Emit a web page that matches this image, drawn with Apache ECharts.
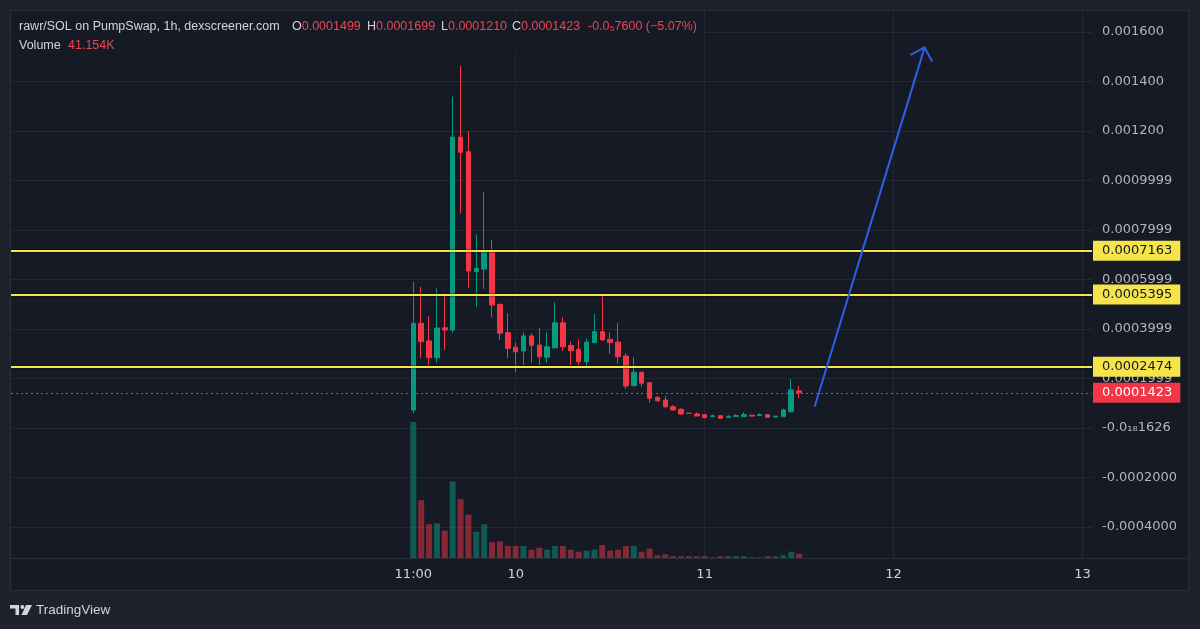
<!DOCTYPE html>
<html>
<head>
<meta charset="utf-8">
<title>rawr/SOL on PumpSwap, 1h</title>
<script src="https://cdn.jsdelivr.net/npm/echarts@6/dist/echarts.min.js"></script>
<style>
  html, body { margin: 0; padding: 0; background: #1e222d; }
  #chart { width: 1200px; height: 629px; }
</style>
</head>
<body>
<div id="chart"></div>
<script>
// hourly candles, index 0 = 11:00 on the 9th
const opens = [0.0000727, 0.000423, 0.000352, 0.000284, 0.000405, 0.000396, 0.001175, 0.001116, 0.000632, 0.000642,
  0.00071, 0.0005, 0.000385, 0.000326, 0.000311, 0.000372, 0.000335, 0.000286, 0.000324, 0.000425,
  0.000333, 0.000318, 0.000268, 0.000345, 0.000389, 0.000358, 0.000347, 0.000291, 0.000171, 0.000225,
  0.000183, 0.000124, 0.000113, 0.000086, 0.0000756, 0.00006, 0.0000566, 0.0000539, 0.000046, 0.0000498,
  0.000043, 0.000047, 0.000046, 0.000052, 0.00005, 0.000054, 0.000044, 0.0000457, 0.0000659, 0.0001499];
const closes = [0.000423, 0.000349, 0.000284, 0.000404, 0.000396, 0.001175, 0.001114, 0.000634, 0.000645, 0.000712,
  0.000497, 0.000383, 0.000322, 0.000308, 0.000372, 0.000334, 0.000288, 0.000328, 0.000425, 0.000328,
  0.000312, 0.000268, 0.000347, 0.000389, 0.000356, 0.000345, 0.000288, 0.00017, 0.000225, 0.000181,
  0.00012, 0.00011, 0.000086, 0.000073, 0.0000566, 0.000059, 0.0000485, 0.0000417, 0.000049, 0.0000391,
  0.000047, 0.00005, 0.000054, 0.000048, 0.000054, 0.000043, 0.000048, 0.0000727, 0.000154, 0.0001423];
const lows = [0.0000594, 0.000282, 0.000248, 0.000264, 0.000315, 0.000385, 0.000865, 0.000567, 0.00049, 0.000562,
  0.000447, 0.000356, 0.000282, 0.000227, 0.000255, 0.000264, 0.000255, 0.000264, 0.000322, 0.000311,
  0.000255, 0.000255, 0.000251, 0.000342, 0.000353, 0.000299, 0.000261, 0.000158, 0.000167, 0.000167,
  0.000102, 0.000106, 0.00008, 0.00007, 0.0000525, 0.000058, 0.000048, 0.00004, 0.000045, 0.000038,
  0.000042, 0.000046, 0.000045, 0.000047, 0.000049, 0.000042, 0.000043, 0.000045, 0.0000618, 0.000121];
const highs = [0.000591, 0.000571, 0.000453, 0.000564, 0.000544, 0.001339, 0.001463, 0.0012, 0.000782, 0.000955,
  0.00076, 0.0005, 0.000463, 0.000345, 0.000387, 0.000383, 0.000403, 0.000387, 0.000508, 0.000447,
  0.000349, 0.000358, 0.000362, 0.000461, 0.000544, 0.000387, 0.000423, 0.000302, 0.000286, 0.000227,
  0.000187, 0.000129, 0.000129, 0.000093, 0.0000796, 0.0000605, 0.0000634, 0.000055, 0.0000539, 0.00005,
  0.0000525, 0.0000566, 0.0000634, 0.000053, 0.00006, 0.000055, 0.000049, 0.000078, 0.000197, 0.0001699];
// volume in K
const volumes = [1292, 548, 320, 329, 260, 728, 557, 412, 250, 320,
  149, 158, 114, 114, 114, 79, 98, 79, 114, 114,
  79, 60, 70, 79, 123, 70, 79, 114, 114, 60,
  89, 25, 35, 16, 16, 16, 16, 16, 6, 16,
  16, 16, 16, 6, 6, 16, 16, 25, 60, 41.154];

const xTickValues = [0, 13, 37, 61, 85];
const xTickLabels = ['11:00', '10', '11', '12', '13'];
const dayLines = [13, 37, 61, 85];
const yTickValues = [-0.0004, -0.0002, 0, 0.0002, 0.0004, 0.0006, 0.0008, 0.001, 0.0012, 0.0014, 0.0016];
const yTickLabels = ['-0.0004000', '-0.0002000', '-0.0\u2081\u20881626', '0.0001999', '0.0003999', '0.0005999',
  '0.0007999', '0.0009999', '0.001200', '0.001400', '0.001600'];
const levels = [0.0007163, 0.0005395, 0.0002474];
const levelLabels = ['0.0007163', '0.0005395', '0.0002474'];
const lastPrice = 0.0001423;
const lastPriceLabel = '0.0001423';
const arrowFrom = [50.97, 0.000086];
const arrowTo = [64.94, 0.001538];

const UP = '#089981';
const DOWN = '#f23645';
const YELLOW = '#f5e44c';
const GRID_LINE = '#242832';
const LEGEND_FONT = '12.5px "Liberation Sans", Arial, sans-serif';

const candles = opens.map((o, i) => [i, o, closes[i], lows[i], highs[i]]);
const volumeBars = volumes.map((v, i) => ({
  value: [i, v],
  itemStyle: { color: closes[i] >= opens[i] ? 'rgba(8,153,129,0.5)' : 'rgba(242,54,69,0.5)' }
}));

const levelLines = levels.map((v, k) => ({
  yAxis: v,
  lineStyle: { color: YELLOW, width: 2, type: 'solid', shadowColor: 'rgba(0,0,0,0.9)', shadowBlur: 2 },
  label: { backgroundColor: YELLOW, color: '#131722', formatter: levelLabels[k] }
}));
levelLines.push({
  yAxis: lastPrice,
  lineStyle: { color: DOWN, width: 1.2, type: [2, 3], opacity: 1 },
  label: { backgroundColor: DOWN, color: '#ffffff', formatter: lastPriceLabel }
});

const legendPair = (letter, value) => ({
  text: '{g|' + letter + '}{r|' + value + '}',
  rich: { g: { fill: '#d1d4dc', font: LEGEND_FONT }, r: { fill: '#ef4352', font: LEGEND_FONT } }
});

const chart = echarts.init(document.getElementById('chart'));

chart.setOption({
  animation: false,
  backgroundColor: '#1e222d',
  grid: [
    { left: 11, right: 108, top: 11, bottom: 71, containLabel: false, outerBoundsMode: 'none' },
    { left: 11, right: 108, top: 400, bottom: 71, containLabel: false, outerBoundsMode: 'none' }
  ],
  xAxis: [
    {
      type: 'value', gridIndex: 0, min: -51.1, max: 86.2,
      axisLine: { show: false },
      axisTick: { show: false, customValues: dayLines },
      axisLabel: {
        customValues: xTickValues,
        formatter: v => xTickLabels[xTickValues.indexOf(v)],
        color: '#d1d4dc', fontSize: 13, fontFamily: 'DejaVu Sans', margin: 10
      },
      splitLine: { show: true, lineStyle: { color: GRID_LINE, width: 1 } }
    },
    {
      type: 'value', gridIndex: 1, min: -51.1, max: 86.2, show: false,
      splitLine: { show: false }
    }
  ],
  yAxis: [
    {
      type: 'value', gridIndex: 0, position: 'right',
      min: -0.00052525, max: 0.0016848, scale: true,
      axisLine: { show: false },
      axisTick: { show: false, customValues: yTickValues },
      axisLabel: {
        customValues: yTickValues,
        formatter: v => {
          const k = yTickValues.findIndex(t => Math.abs(t - v) < 1e-9);
          return k >= 0 ? yTickLabels[k] : '';
        },
        color: '#b2b5be', fontSize: 13, fontFamily: 'DejaVu Sans', margin: 10
      },
      splitLine: { show: true, lineStyle: { color: GRID_LINE, width: 1 } }
    },
    {
      type: 'value', gridIndex: 1, min: 0, max: 1500, show: false,
      splitLine: { show: false }
    }
  ],
  series: [
    {
      name: 'Volume',
      type: 'bar',
      xAxisIndex: 1, yAxisIndex: 1,
      barWidth: 6,
      data: volumeBars,
      z: 1
    },
    {
      name: 'rawr/SOL',
      type: 'candlestick',
      xAxisIndex: 0, yAxisIndex: 0,
      barWidth: 5,
      encode: { x: 0, y: [1, 2, 3, 4] },
      data: candles,
      itemStyle: {
        color: UP, color0: DOWN,
        borderColor: UP, borderColor0: DOWN, borderWidth: 1
      },
      z: 3
    },
    {
      name: 'levels',
      type: 'line',
      xAxisIndex: 0, yAxisIndex: 0,
      data: [],
      silent: true,
      markLine: {
        silent: true,
        symbol: 'none',
        animation: false,
        precision: 10,
        label: {
          position: 'end',
          distance: 1,
          padding: [4, 8, 3, 9],
          fontSize: 13,
          fontFamily: 'DejaVu Sans'
        },
        data: levelLines
      },
      z: 4
    },
    {
      name: 'arrow',
      type: 'custom',
      xAxisIndex: 0, yAxisIndex: 0,
      silent: true,
      encode: { x: [0, 2], y: [1, 3] },
      data: [[arrowFrom[0], arrowFrom[1], arrowTo[0], arrowTo[1]]],
      renderItem: (params, api) => {
        const p1 = api.coord([api.value(0), api.value(1)]);
        const p2 = api.coord([api.value(2), api.value(3)]);
        const ang = Math.atan2(p1[1] - p2[1], p1[0] - p2[0]);
        const len = 16;
        const w1 = [p2[0] + len * Math.cos(ang + Math.PI / 4), p2[1] + len * Math.sin(ang + Math.PI / 4)];
        const w2 = [p2[0] + len * Math.cos(ang - Math.PI / 4), p2[1] + len * Math.sin(ang - Math.PI / 4)];
        const style = { stroke: '#2f5fe8', lineWidth: 2, fill: null };
        return {
          type: 'group',
          children: [
            { type: 'line', shape: { x1: p1[0], y1: p1[1], x2: p2[0], y2: p2[1] }, style },
            { type: 'polyline', shape: { points: [w1, p2, w2] }, style }
          ]
        };
      },
      z: 5
    }
  ],
  graphic: [
    // panel background and frame
    { type: 'rect', z: -10, shape: { x: 10.5, y: 10.5, width: 1178, height: 580 },
      style: { fill: '#161a25', stroke: '#2a2e39', lineWidth: 1 } },
    { type: 'line', z: -9, shape: { x1: 11, y1: 558.5, x2: 1188, y2: 558.5 },
      style: { stroke: '#2a2e39', lineWidth: 1 } },
    // legend
    { type: 'rect', z: 50, shape: { x: 14, y: 17, width: 690, height: 36 }, style: { fill: '#161a25' } },
    { type: 'text', z: 60, left: 19, top: 20,
      style: { text: 'rawr/SOL on PumpSwap, 1h, dexscreener.com', fill: '#d1d4dc', font: LEGEND_FONT } },
    { type: 'text', z: 60, left: 292, top: 20, style: legendPair('O', '0.0001499') },
    { type: 'text', z: 60, left: 367, top: 20, style: legendPair('H', '0.0001699') },
    { type: 'text', z: 60, left: 441, top: 20, style: legendPair('L', '0.0001210') },
    { type: 'text', z: 60, left: 512, top: 20, style: legendPair('C', '0.0001423') },
    { type: 'text', z: 60, left: 588, top: 20,
      style: { text: '-0.0\u20857600 (\u22125.07%)', fill: '#ef4352', font: LEGEND_FONT } },
    { type: 'text', z: 60, left: 19, top: 39,
      style: { text: 'Volume', fill: '#d1d4dc', font: LEGEND_FONT } },
    { type: 'text', z: 60, left: 68, top: 39,
      style: { text: '41.154K', fill: '#ef4352', font: LEGEND_FONT } },
    // TradingView mark
    { type: 'rect', z: 60, shape: { x: 10, y: 605, width: 9, height: 3.5 }, style: { fill: '#d1d4dc' } },
    { type: 'rect', z: 60, shape: { x: 15.5, y: 605, width: 3.5, height: 10 }, style: { fill: '#d1d4dc' } },
    { type: 'circle', z: 60, shape: { cx: 22.3, cy: 607, r: 2 }, style: { fill: '#d1d4dc' } },
    { type: 'polygon', z: 60, shape: { points: [[26, 605], [32, 605], [27, 615], [21.5, 615]] }, style: { fill: '#d1d4dc' } },
    { type: 'text', z: 60, left: 36, top: 603,
      style: { text: 'TradingView', fill: '#d1d4dc', font: '13.5px "Liberation Sans", Arial, sans-serif' } }
  ]
});

window.addEventListener('resize', () => {
  chart.resize();
});
</script>
</body>
</html>
